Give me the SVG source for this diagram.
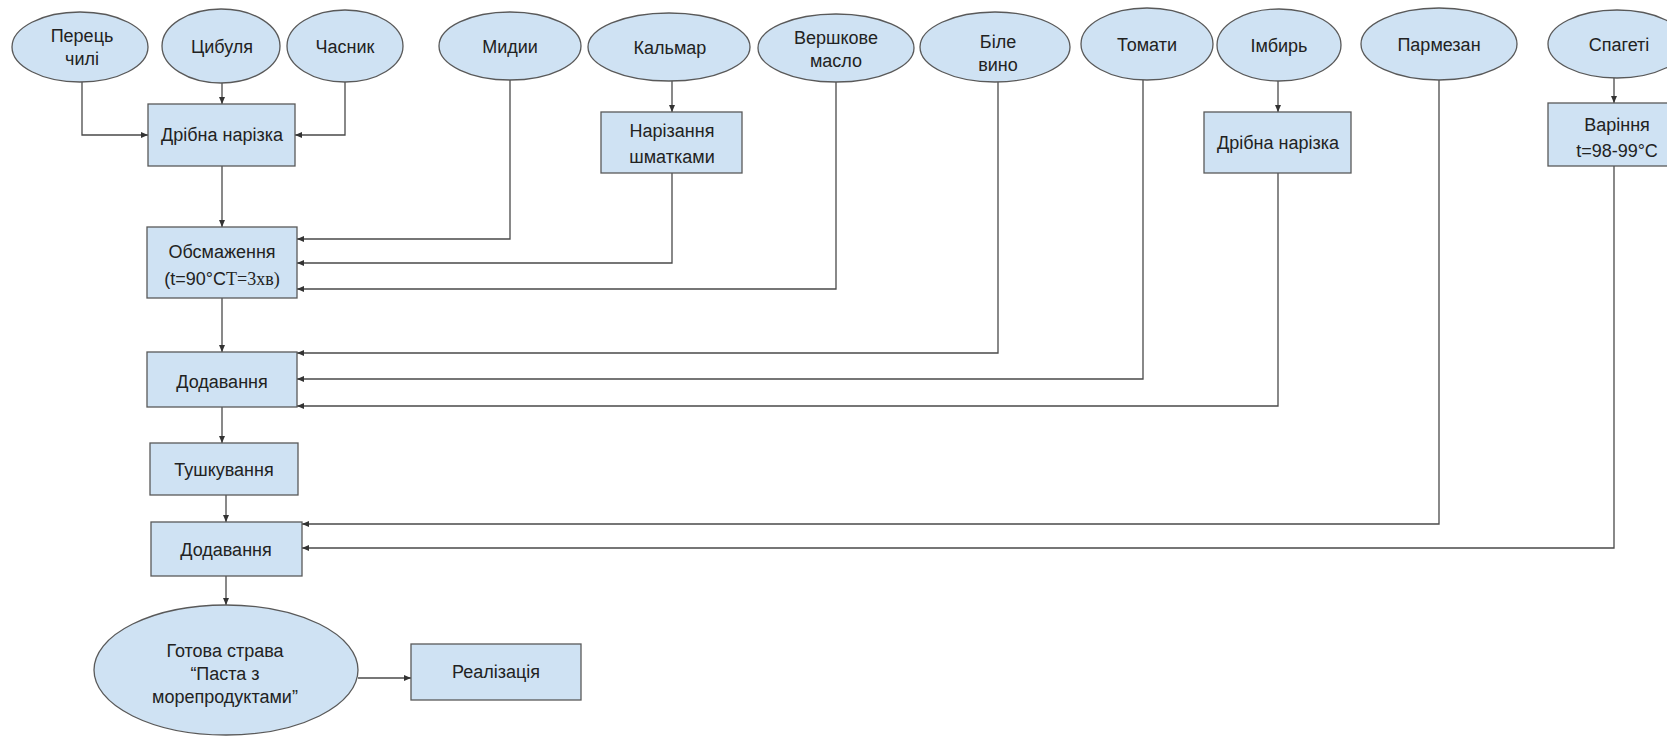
<svg xmlns="http://www.w3.org/2000/svg" width="1667" height="737" viewBox="0 0 1667 737">
<style>
.n{fill:#cfe2f3;stroke:#595959;stroke-width:1.3}
.t{font-family:"Liberation Sans",Arial,sans-serif;font-size:18px;fill:#222;text-anchor:middle}
.c{fill:none;stroke:#4a4a4a;stroke-width:1.3}
.s{font-family:"Liberation Serif","Times New Roman",serif}
</style>
<defs>
<marker id="a" markerUnits="userSpaceOnUse" markerWidth="8" markerHeight="7" refX="7" refY="3" orient="auto">
<path d="M0,0 L7,3 L0,6 z" fill="#333"/>
</marker>
</defs>
<rect width="1667" height="737" fill="#fff"/>
<g id="connectors" class="c" marker-end="url(#a)">
<path d="M82 82 V135 H148"/>
<path d="M222 83 V104"/>
<path d="M345 82 V135 H295"/>
<path d="M222 166 V227"/>
<path d="M510 80 V239 H297"/>
<path d="M672 81 V112"/>
<path d="M672 173 V263 H297"/>
<path d="M836 82 V289 H297"/>
<path d="M998 82 V353 H297"/>
<path d="M1143 80 V379 H297"/>
<path d="M1278 81 V112"/>
<path d="M1278 173 V406 H297"/>
<path d="M222 298 V352"/>
<path d="M222 407 V443"/>
<path d="M226 495 V522"/>
<path d="M1439 80 V524 H302"/>
<path d="M1614 78 V103"/>
<path d="M1614 166 V548 H302"/>
<path d="M226 576 V605"/>
<path d="M358 678 H411"/>
</g>
<g id="perets"><ellipse class="n" cx="80" cy="47" rx="68" ry="35"/><text class="t" x="82" y="42">Перець</text><text class="t" x="82" y="65">чилі</text></g>
<g id="tsybulia"><ellipse class="n" cx="221" cy="46" rx="59" ry="37"/><text class="t" x="222" y="53">Цибуля</text></g>
<g id="chasnyk"><ellipse class="n" cx="345" cy="46" rx="58" ry="36"/><text class="t" x="345" y="53">Часник</text></g>
<g id="mydii"><ellipse class="n" cx="510" cy="46" rx="71" ry="34"/><text class="t" x="510" y="53">Мидии</text></g>
<g id="kalmar"><ellipse class="n" cx="669" cy="47" rx="81" ry="34"/><text class="t" x="670" y="54">Кальмар</text></g>
<g id="vershkove"><ellipse class="n" cx="836" cy="48" rx="78" ry="34"/><text class="t" x="836" y="44">Вершкове</text><text class="t" x="836" y="67">масло</text></g>
<g id="bile"><ellipse class="n" cx="995" cy="47" rx="75" ry="35"/><text class="t" x="998" y="48">Біле</text><text class="t" x="998" y="71">вино</text></g>
<g id="tomaty"><ellipse class="n" cx="1147" cy="44" rx="66" ry="36"/><text class="t" x="1147" y="51">Томати</text></g>
<g id="imbyr"><ellipse class="n" cx="1279" cy="45" rx="62" ry="36"/><text class="t" x="1279" y="52">Імбирь</text></g>
<g id="parmezan"><ellipse class="n" cx="1439" cy="44" rx="78" ry="36"/><text class="t" x="1439" y="51">Пармезан</text></g>
<g id="spageti"><ellipse class="n" cx="1617" cy="44" rx="69" ry="34"/><text class="t" x="1619" y="51">Спагеті</text></g>
<g id="narizka1"><rect class="n" x="148" y="104" width="147" height="62"/><text class="t" x="222" y="141">Дрібна нарізка</text></g>
<g id="shmatky"><rect class="n" x="601" y="112" width="141" height="61"/><text class="t" x="672" y="137">Нарізання</text><text class="t" x="672" y="163">шматками</text></g>
<g id="narizka2"><rect class="n" x="1204" y="112" width="147" height="61"/><text class="t" x="1278" y="149">Дрібна нарізка</text></g>
<g id="varinnia"><rect class="n" x="1548" y="103" width="140" height="63"/><text class="t" x="1617" y="131">Варіння</text><text class="t" x="1617" y="157">t=98-99°C</text></g>
<g id="obsmazhennia"><rect class="n" x="147" y="227" width="150" height="71"/><text class="t" x="222" y="258">Обсмаження</text><text class="t" x="222" y="285">(t=90°C<tspan class="s">T=3хв)</tspan></text></g>
<g id="dodavannia1"><rect class="n" x="147" y="352" width="150" height="55"/><text class="t" x="222" y="388">Додавання</text></g>
<g id="tushkuvannia"><rect class="n" x="150" y="443" width="148" height="52"/><text class="t" x="224" y="476">Тушкування</text></g>
<g id="dodavannia2"><rect class="n" x="151" y="522" width="151" height="54"/><text class="t" x="226" y="556">Додавання</text></g>
<g id="gotova"><ellipse class="n" cx="226" cy="670" rx="132" ry="65"/><text class="t" x="225" y="657">Готова страва</text><text class="t" x="225" y="680">“Паста з</text><text class="t" x="225" y="703">морепродуктами”</text></g>
<g id="realizatsiia"><rect class="n" x="411" y="644" width="170" height="56"/><text class="t" x="496" y="678">Реалізація</text></g>
</svg>
